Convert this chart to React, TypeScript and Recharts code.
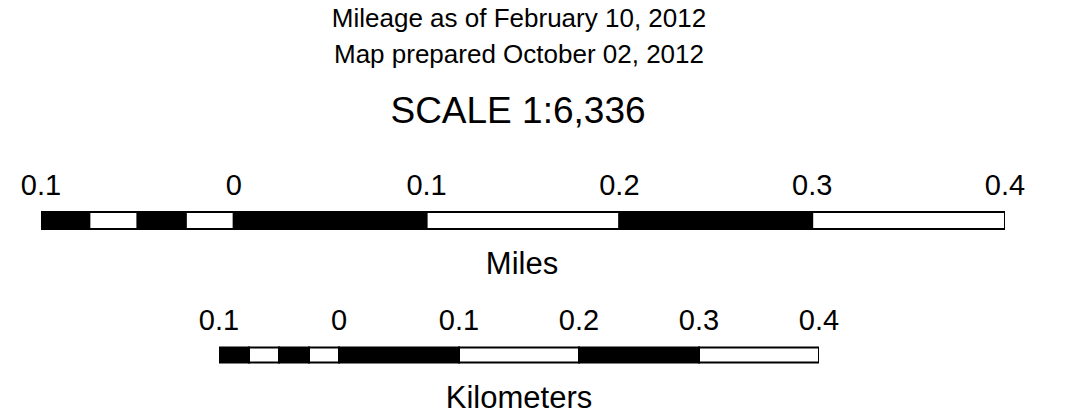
import React from 'react';
import { BarChart, Bar, XAxis, YAxis } from 'recharts';

// ---- data ----
const titleLines = ['Mileage as of February 10, 2012', 'Map prepared October 02, 2012'];
const scaleText = 'SCALE 1:6,336';
const milesTicks = [-0.1, 0, 0.1, 0.2, 0.3, 0.4];
const kmTicks = [-0.1, 0, 0.1, 0.2, 0.3, 0.4];
// subdivided left part (from 0 going left), signed lengths
const milesNegSegments = [-0.025, -0.025, -0.025, -0.025];
const milesPosSegments = [0.1, 0.1, 0.1, 0.1];
const kmNegSegments = [-0.025, -0.025, -0.025, -0.025];
const kmPosSegments = [0.1, 0.1, 0.1, 0.1];
const milesUnit = 'Miles';
const kmUnit = 'Kilometers';

// ---- styles ----
const negFills = ['#ffffff', '#000000', '#ffffff', '#000000'];
const posFills = ['#000000', '#ffffff', '#000000', '#ffffff'];
const FONT = '"Liberation Sans", Arial, sans-serif';

function buildRow(name: string, neg: number[], pos: number[]) {
  const row: Record<string, any> = { name };
  neg.forEach((v, i) => (row['n' + i] = v));
  pos.forEach((v, i) => (row['p' + i] = v));
  return row;
}

const fmt = (v: number) => (Math.abs(v) < 1e-9 ? '0' : Math.abs(v).toFixed(1));

function TickLabel(props: any) {
  const { x, y, payload } = props;
  return (
    <text x={x} y={y} textAnchor="middle" fontFamily={FONT} fontSize={29} fill="#000">
      {fmt(payload.value)}
    </text>
  );
}

function ScaleBar(props: {
  row: Record<string, any>;
  neg: number[];
  pos: number[];
  ticks: number[];
  margin: { top: number; right: number; bottom: number; left: number };
  tickMargin: number;
}) {
  const { row, neg, pos, ticks, margin, tickMargin } = props;
  return (
    <div style={{ position: 'absolute', left: 0, top: 0 }}>
      <BarChart
        width={1072}
        height={417}
        data={[row]}
        layout="vertical"
        stackOffset="sign"
        barCategoryGap={0}
        margin={margin}
      >
        <XAxis
          type="number"
          orientation="top"
          domain={[ticks[0], ticks[ticks.length - 1]]}
          ticks={ticks}
          allowDataOverflow
          axisLine={false}
          tickLine={false}
          tickSize={0}
          tickMargin={tickMargin}
          height={30}
          interval={0}
          tick={<TickLabel />}
        />
        <YAxis type="category" dataKey="name" hide width={0} />
        {neg.map((_, i) => (
          <Bar
            key={'n' + i}
            dataKey={'n' + i}
            stackId="s"
            fill={negFills[i]}
            stroke="#000"
            strokeWidth={2}
            isAnimationActive={false}
          />
        ))}
        {pos.map((_, i) => (
          <Bar
            key={'p' + i}
            dataKey={'p' + i}
            stackId="s"
            fill={posFills[i]}
            stroke="#000"
            strokeWidth={2}
            isAnimationActive={false}
          />
        ))}
      </BarChart>
    </div>
  );
}

export default function App() {
  const milesRow = buildRow(milesUnit, milesNegSegments, milesPosSegments);
  const kmRow = buildRow(kmUnit, kmNegSegments, kmPosSegments);
  return (
    <div
      style={{
        position: 'absolute',
        left: 0,
        top: 0,
        width: 1072,
        height: 417,
        background: '#fff',
        overflow: 'hidden',
      }}
    >
      <ScaleBar
        row={milesRow}
        neg={milesNegSegments}
        pos={milesPosSegments}
        ticks={milesTicks}
        margin={{ top: 182, right: 67, bottom: 188, left: 41 }}
        tickMargin={17}
      />
      <ScaleBar
        row={kmRow}
        neg={kmNegSegments}
        pos={kmPosSegments}
        ticks={kmTicks}
        margin={{ top: 317.5, right: 253, bottom: 54.5, left: 219 }}
        tickMargin={17.5}
      />
      <svg
        width={1072}
        height={417}
        style={{ position: 'absolute', left: 0, top: 0, pointerEvents: 'none' }}
      >
        <text x={519} y={27} textAnchor="middle" fontFamily={FONT} fontSize={26} fill="#000">
          {titleLines[0]}
        </text>
        <text x={519} y={63} textAnchor="middle" fontFamily={FONT} fontSize={26} fill="#000">
          {titleLines[1]}
        </text>
        <text x={518} y={123} textAnchor="middle" fontFamily={FONT} fontSize={37} fill="#000">
          {scaleText}
        </text>
        <text x={522} y={274} textAnchor="middle" fontFamily={FONT} fontSize={31} fill="#000">
          {milesUnit}
        </text>
        <text x={519} y={408} textAnchor="middle" fontFamily={FONT} fontSize={31} fill="#000">
          {kmUnit}
        </text>
      </svg>
    </div>
  );
}
